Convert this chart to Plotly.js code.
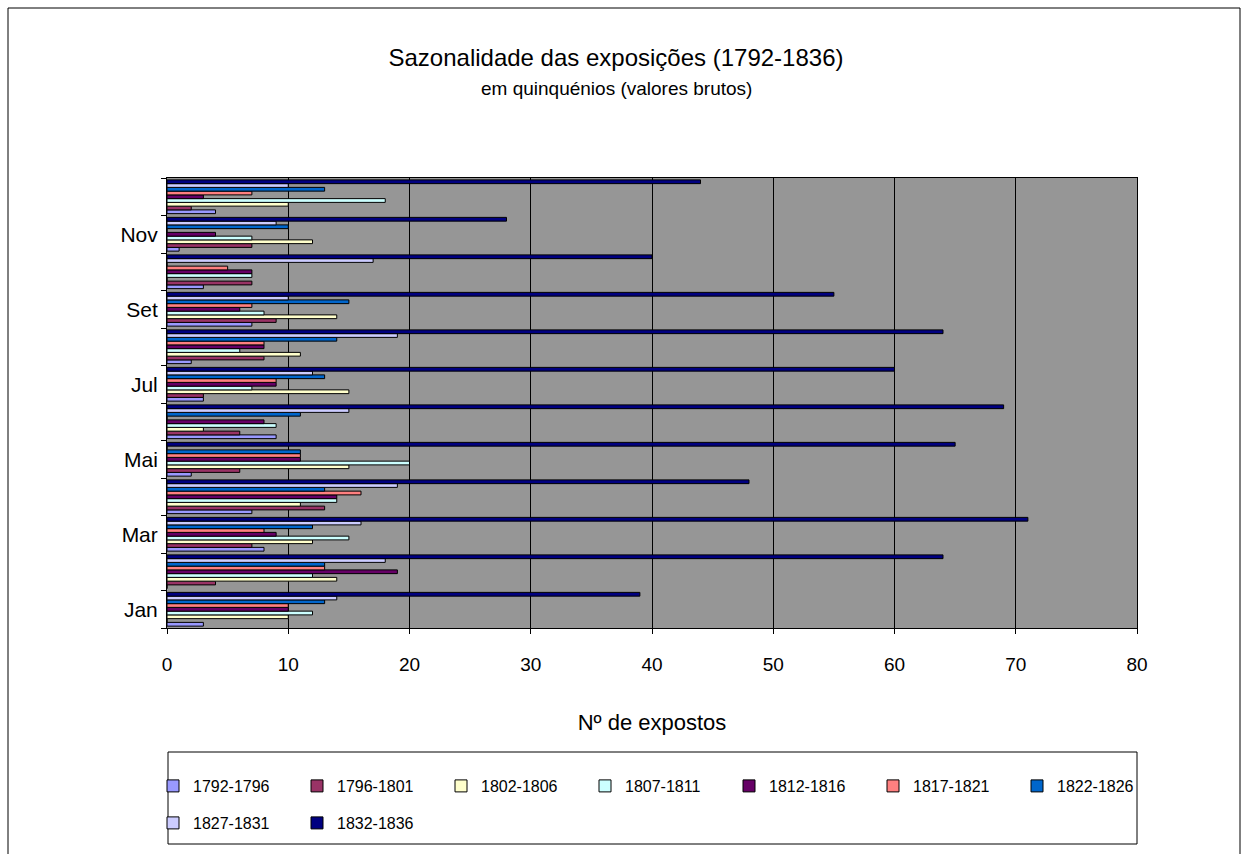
<!DOCTYPE html>
<html><head><meta charset="utf-8">
<script src="https://cdn.plot.ly/plotly-3.0.1.min.js"></script>
<style>html,body{margin:0;padding:0;background:#fff}#chart{width:1247px;height:854px}</style>
</head><body><div id="chart"></div>
<script>
// Categories (bottom to top)
const months = ['Jan','Fev','Mar','Abr','Mai','Jun','Jul','Ago','Set','Out','Nov','Dez'];
const yTickText = ['Jan','','Mar','','Mai','','Jul','','Set','','Nov',''];
const seriesNames = ['1792-1796','1796-1801','1802-1806','1807-1811','1812-1816','1817-1821','1822-1826','1827-1831','1832-1836'];

// Values per series, Jan..Dez
const s1792_1796 = [3, 0, 8, 7, 2, 9, 3, 2, 7, 3, 1, 4];
const s1796_1801 = [0, 4, 7, 13, 6, 6, 3, 8, 9, 7, 7, 2];
const s1802_1806 = [10, 14, 12, 11, 15, 3, 15, 11, 14, 0, 12, 10];
const s1807_1811 = [12, 12, 15, 14, 20, 9, 7, 6, 8, 7, 7, 18];
const s1812_1816 = [10, 19, 9, 14, 11, 8, 9, 8, 6, 7, 4, 3];
const s1817_1821 = [10, 13, 8, 16, 11, 0, 9, 8, 7, 5, 0, 7];
const s1822_1826 = [13, 13, 12, 13, 11, 11, 13, 14, 15, 0, 10, 13];
const s1827_1831 = [14, 18, 16, 19, 0, 15, 12, 19, 10, 17, 9, 10];
const s1832_1836 = [39, 64, 71, 48, 65, 69, 60, 64, 55, 40, 28, 44];

const seriesValues = [s1792_1796, s1796_1801, s1802_1806, s1807_1811, s1812_1816, s1817_1821, s1822_1826, s1827_1831, s1832_1836];
const seriesColors = ['#9999FF','#993366','#FFFFCC','#CCFFFF','#660066','#FF8080','#0066CC','#CCCCFF','#000080'];

const traces = seriesNames.map((name, i) => ({
  type: 'bar',
  orientation: 'h',
  name: name,
  y: months,
  x: seriesValues[i],
  marker: { color: seriesColors[i], line: { color: '#000000', width: 1 } },
  legend: i < 7 ? 'legend' : 'legend2',
  hoverinfo: 'skip'
}));

// geometry helpers (plot area 167..1137 x 178..628)
const L = 167, R = 1137, T = 178, B = 628;
const px = x => (x - L) / (R - L);
const py = y => (B - y) / (B - T);

const legendCommon = {
  orientation: 'h', xanchor: 'left', x: px(153), yanchor: 'middle',
  entrywidth: 99, entrywidthmode: 'pixels',
  bgcolor: 'rgba(0,0,0,0)', borderwidth: 0,
  font: { size: 16, color: '#000' }
};

const layout = {
  width: 1247, height: 854,
  margin: { l: L, r: 1247 - R, t: T, b: 854 - B, pad: 0 },
  paper_bgcolor: '#ffffff',
  plot_bgcolor: '#969696',
  barmode: 'group', bargap: 0.1, bargroupgap: 0,
  font: { family: 'Arial, "Liberation Sans", sans-serif', color: '#000', size: 16 },
  title: {
    text: 'Sazonalidade das exposições (1792-1836)',
    font: { size: 24, color: '#000' },
    xref: 'container', yref: 'container',
    x: 616 / 1247, xanchor: 'center',
    y: 1 - 58 / 854, yanchor: 'middle'
  },
  annotations: [{
    text: 'em quinquénios (valores brutos)',
    xref: 'paper', yref: 'paper', x: px(616), y: py(88),
    xanchor: 'center', yanchor: 'middle', showarrow: false,
    font: { size: 19, color: '#000' }
  }],
  xaxis: {
    range: [0, 80], tick0: 0, dtick: 10,
    showgrid: true, gridcolor: '#000', gridwidth: 1,
    zeroline: false,
    showline: true, linecolor: '#000', linewidth: 1, mirror: true,
    ticks: 'outside', ticklen: 5, tickcolor: '#000',
    tickfont: { size: 19 }, ticklabelstandoff: 14,
    title: { text: 'Nº de expostos', font: { size: 22 }, standoff: 40 },
    fixedrange: true
  },
  yaxis: {
    type: 'category', categoryorder: 'array', categoryarray: months,
    tickmode: 'array', tickvals: months, ticktext: yTickText,
    tickson: 'boundaries', ticks: 'outside', ticklen: 5, tickcolor: '#000',
    showgrid: false, zeroline: false,
    showline: true, linecolor: '#000', linewidth: 1, mirror: true,
    tickfont: { size: 21 }, ticklabelstandoff: 4,
    fixedrange: true
  },
  legend: Object.assign({}, legendCommon, { y: py(786) }),
  legend2: Object.assign({}, legendCommon, { y: py(823) }),
  shapes: [
    { type: 'rect', xref: 'paper', yref: 'paper', x0: px(8), x1: px(1240), y0: py(900), y1: py(8),
      line: { color: '#000', width: 1 }, fillcolor: 'rgba(0,0,0,0)', layer: 'below' },
    { type: 'rect', xref: 'paper', yref: 'paper', x0: px(168), x1: px(1137), y0: py(844), y1: py(752),
      line: { color: '#000', width: 1 }, fillcolor: 'rgba(0,0,0,0)', layer: 'below' }
  ],
  showlegend: true
};

Plotly.newPlot('chart', traces, layout, { staticPlot: true, displayModeBar: false });
</script>
</body></html>
